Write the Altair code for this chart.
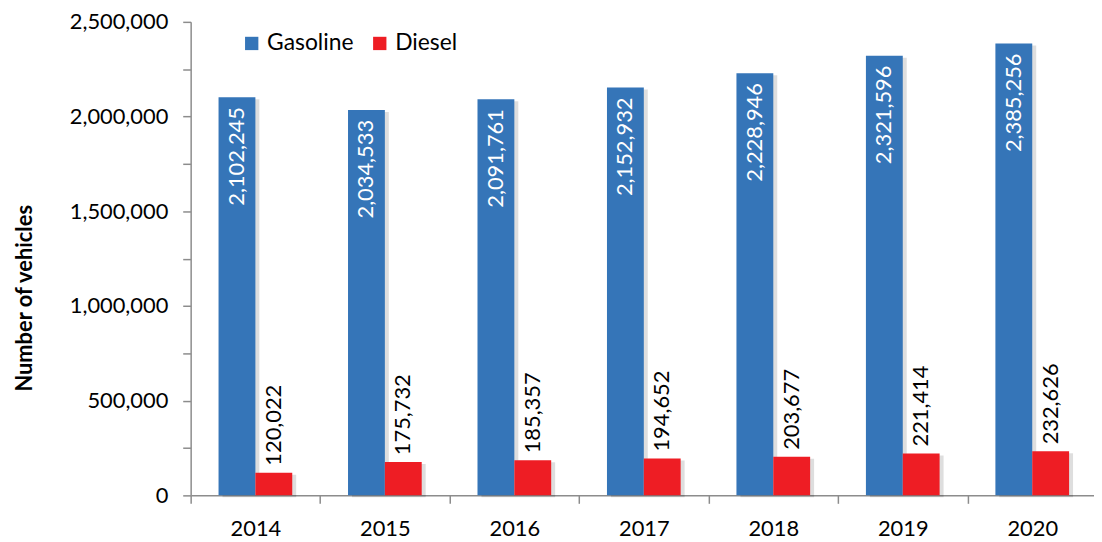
import altair as alt
import pandas as pd

years = ["2014", "2015", "2016", "2017", "2018", "2019", "2020"]
gasoline = [2102245, 2034533, 2091761, 2152932, 2228946, 2321596, 2385256]
diesel = [120022, 175732, 185357, 194652, 203677, 221414, 232626]
series = ["Gasoline", "Diesel"]
colors = ["#3575B8", "#EE1D24"]
y_ticks = [i * 250000 for i in range(11)]

rows = []
for i, yr in enumerate(years):
    rows.append({"year": yr, "fuel": "Gasoline", "value": gasoline[i]})
    rows.append({"year": yr, "fuel": "Diesel", "value": diesel[i]})
df = pd.DataFrame(rows)

FONT = "Lato"
W, H = 910, 477
XR = 913  # band range runs slightly past the visible right edge, as in the cropped original

x_axis = alt.Axis(title=None, labelAngle=0, tickBand="extent", tickSize=8,
                  labelPadding=15, labelFontSize=22, labelFont=FONT,
                  labelColor="#000", domainColor="#8c8c8c", tickColor="#8c8c8c",
                  domainWidth=1.5, tickWidth=1.5)
xo_enc = alt.XOffset("fuel:N", sort=series, scale=alt.Scale(paddingOuter=0.757, paddingInner=0))
y_scale = alt.Scale(domain=[0, 2500000], nice=False)

base = alt.Chart(df)

# soft drop shadow: same bars drawn through scales whose ranges are shifted a few pixels
shadow = base.mark_bar(color="#000000", opacity=0.13).encode(
    x=alt.X("year:N", scale=alt.Scale(paddingInner=0, paddingOuter=0, range=[4, XR + 4]), axis=None),
    xOffset=xo_enc,
    y=alt.Y("value:Q", scale=alt.Scale(domain=[0, 2500000], nice=False, range=[H + 2, 2]), axis=None),
)

x_enc = alt.X("year:N", scale=alt.Scale(paddingInner=0, paddingOuter=0, range=[0, XR]), axis=x_axis)

bars = base.mark_bar().encode(
    x=x_enc, xOffset=xo_enc,
    y=alt.Y("value:Q", scale=y_scale,
            axis=alt.Axis(title="Number of vehicles", values=y_ticks, grid=False,
                          labelExpr="datum.value % 500000 == 0 ? format(datum.value, ',') : ''",
                          tickSize=8, labelPadding=15, labelFontSize=22, labelFont=FONT,
                          labelColor="#000", domainColor="#8c8c8c", tickColor="#8c8c8c",
                          domainWidth=1.5, tickWidth=1.5,
                          titleFont=FONT, titleFontSize=22, titleFontWeight="bold",
                          titleColor="#000", titleX=-167, titleY=278,
                          titleAlign="center", titleBaseline="middle", titleAngle=270)),
    color=alt.Color("fuel:N", sort=series,
                    scale=alt.Scale(domain=series, range=colors),
                    legend=alt.Legend(title=None, orient="none", legendX=50, legendY=10,
                                      direction="horizontal", symbolType="square",
                                      symbolSize=180, symbolStrokeWidth=0, symbolOpacity=1,
                                      labelFont=FONT, labelFontSize=23, labelColor="#000",
                                      columnPadding=14, labelOffset=4)),
)

gas_labels = base.transform_filter(alt.datum.fuel == "Gasoline").mark_text(
    angle=270, align="right", baseline="middle", dx=-10, color="white",
    font=FONT, fontSize=22).encode(
    x=x_enc, xOffset=xo_enc,
    y=alt.Y("value:Q", scale=y_scale),
    text=alt.Text("value:Q", format=","),
)

dsl_labels = base.transform_filter(alt.datum.fuel == "Diesel").mark_text(
    angle=270, align="left", baseline="middle", dx=7, color="black",
    font=FONT, fontSize=22).encode(
    x=x_enc, xOffset=xo_enc,
    y=alt.Y("value:Q", scale=y_scale),
    text=alt.Text("value:Q", format=","),
)

main = alt.layer(bars, gas_labels, dsl_labels)

chart = alt.layer(shadow, main).resolve_scale(x="independent", y="independent").properties(
    width=W, height=H,
    autosize=alt.AutoSizeParams(type="none"),
    padding={"left": 184, "top": 12, "right": 0, "bottom": 44},
).configure_view(stroke=None)

chart.save("out.html", embed_options={"renderer": "svg", "actions": False})
